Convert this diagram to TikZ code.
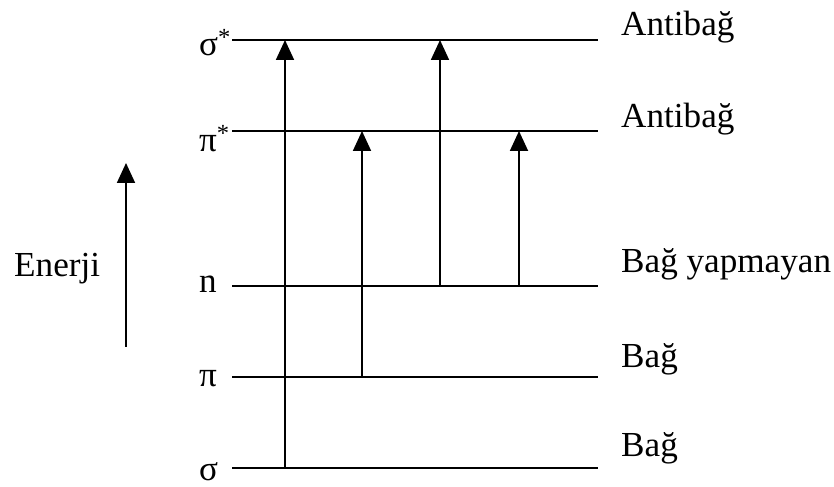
\documentclass[tikz,border=0pt]{standalone}
\usepackage{fontspec}
\setmainfont{Liberation Serif}
\usetikzlibrary{arrows.meta}
\tikzset{
  level/.style={line width=0.06cm},
  trans/.style={line width=0.055cm,-{Triangle[length=0.6cm,width=0.54cm]}},
  lbl/.style={font=\fontsize{30}{36}\selectfont, inner sep=0pt, anchor=base west},
}
\begin{document}
\begin{tikzpicture}[x=0.03cm,y=-0.03cm]
	\useasboundingbox (0,0) rectangle (834,487);
	% energy levels
	\foreach \n/\y in {ss/40,ps/131,n/286,p/377,s/468}{
		\coordinate (\n-l) at (232,\y);
		\coordinate (\n-r) at (598,\y);
		\draw[level] (\n-l) -- (\n-r);
	}
	% columns of the transitions
	\coordinate (c1) at (285,0);
	\coordinate (c2) at (362,0);
	\coordinate (c3) at (440,0);
	\coordinate (c4) at (519,0);
	% transitions
	\draw[trans] (s-l -| c1) -- (ss-l -| c1);
	\draw[trans] (p-l -| c2) -- (ps-l -| c2);
	\draw[trans] (n-l -| c3) -- (ss-l -| c3);
	\draw[trans] (n-l -| c4) -- (ps-l -| c4);
	% energy axis
	\coordinate (e-bot) at (126,347);
	\coordinate (e-top) at (126,163);
	\draw[trans] (e-bot) -- (e-top);
	\node[lbl] (enerji) at (14,277) {Enerji};
	% labels left
	\node[lbl] (lss) at (199,56) {σ\textsuperscript{*}};
	\node[lbl] (lps) at (199,152) {π\textsuperscript{*}};
	\node[lbl] (ln) at (199,293) {n};
	\node[lbl] (lp) at (199,387) {π};
	\node[lbl] (ls) at (199,480) {σ};
	% labels right
	\node[lbl] (rss) at (621,36) {Antibağ};
	\node[lbl] (rps) at (621,128) {Antibağ};
	\node[lbl] (rn) at (621,273) {Bağ yapmayan};
	\node[lbl] (rp) at (621,368) {Bağ};
	\node[lbl] (rs) at (621,457) {Bağ};
\end{tikzpicture}
\end{document}
